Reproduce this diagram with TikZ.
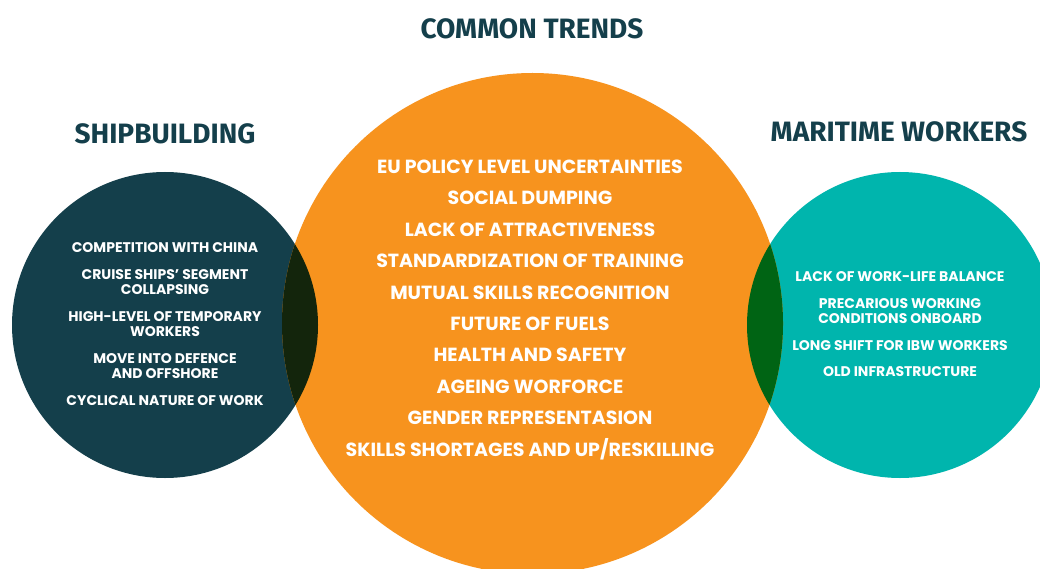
\documentclass[tikz,border=0pt]{standalone}
\usepackage{fontspec}
\setmainfont{Poppins}
\newfontfamily\headfont{Fira Sans}
\definecolor{navy}{HTML}{143F4B}
\definecolor{tealc}{HTML}{00B5AD}
\definecolor{orangec}{HTML}{F7931E}
\definecolor{ovleft}{HTML}{13250C}
\definecolor{ovright}{HTML}{006414}
\tikzset{
  head/.style={text=navy, font=\headfont\bfseries\fontsize{28}{32}\selectfont, inner sep=0pt, anchor=base},
  mid/.style={text=white, font=\bfseries\fontsize{19}{22}\selectfont, inner sep=0pt, anchor=base},
  side/.style={text=white, font=\bfseries\fontsize{14}{16}\selectfont, inner sep=0pt, anchor=base, align=center},
}
\begin{document}
\begin{tikzpicture}[x=1pt,y=1pt]
\useasboundingbox (0,0) rectangle (1040,-569);
\fill[white] (0,0) rectangle (1040,-569);
\begin{scope}
\clip (0,0) rectangle (1040,-569);
\fill[navy] (165,-325) circle (153pt);
\fill[tealc] (900,-325) circle (153pt);
\fill[orangec] (532.5,-323.5) circle (250.5pt);
\begin{scope}
\clip (165,-325) circle (153pt);
\fill[ovleft] (532.5,-323.5) circle (250.5pt);
\end{scope}
\begin{scope}
\clip (900,-325) circle (153pt);
\fill[ovright] (532.5,-323.5) circle (250.5pt);
\end{scope}
\end{scope}
\node[head] (hc) at (532,-38.5) {COMMON TRENDS};
\node[head] (hs) at (165,-143.5) {SHIPBUILDING};
\node[head] (hm) at (899,-142) {MARITIME WORKERS};

\node[mid] (m1) at (530,-173.5) {EU POLICY LEVEL UNCERTAINTIES};
\node[mid] (m2) at (530,-204.9) {SOCIAL DUMPING};
\node[mid] (m3) at (530,-236.3) {LACK OF ATTRACTIVENESS};
\node[mid] (m4) at (530,-267.7) {STANDARDIZATION OF TRAINING};
\node[mid] (m5) at (530,-299.1) {MUTUAL SKILLS RECOGNITION};
\node[mid] (m6) at (530,-330.5) {FUTURE OF FUELS};
\node[mid] (m7) at (530,-361.9) {HEALTH AND SAFETY};
\node[mid] (m8) at (530,-393.3) {AGEING WORFORCE};
\node[mid] (m9) at (530,-424.7) {GENDER REPRESENTASION};
\node[mid] (m10) at (530,-456.1) {SKILLS SHORTAGES AND UP/RESKILLING};

\node[side] (s1) at (165,-252.5) {COMPETITION WITH CHINA};
\node[side] (s2) at (165,-279.5) {CRUISE SHIPS’ SEGMENT};
\node[side] (s2b) at (165,-294.5) {COLLAPSING};
\node[side] (s3) at (165,-321.5) {HIGH-LEVEL OF TEMPORARY};
\node[side] (s3b) at (165,-336.5) {WORKERS};
\node[side] (s4) at (165,-363.5) {MOVE INTO DEFENCE};
\node[side] (s4b) at (165,-378.5) {AND OFFSHORE};
\node[side] (s5) at (165,-405) {CYCLICAL NATURE OF WORK};

\node[side] (r1) at (900,-281.5) {LACK OF WORK-LIFE BALANCE};
\node[side] (r2) at (900,-308.5) {PRECARIOUS WORKING};
\node[side] (r2b) at (900,-323) {CONDITIONS ONBOARD};
\node[side] (r3) at (900,-350.5) {LONG SHIFT FOR IBW WORKERS};
\node[side] (r4) at (900,-376.5) {OLD INFRASTRUCTURE};
\end{tikzpicture}
\end{document}
